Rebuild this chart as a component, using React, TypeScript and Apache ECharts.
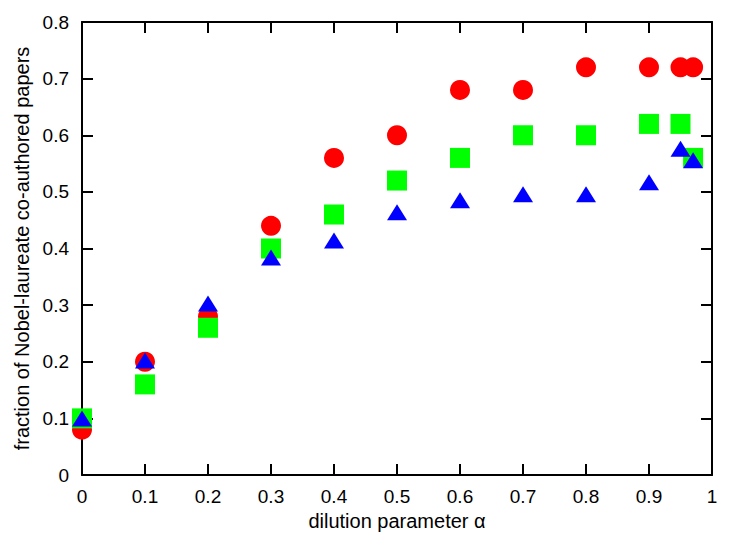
import React, { useEffect, useRef } from "react";
import * as echarts from "echarts";

const alphaValues = [0, 0.1, 0.2, 0.3, 0.4, 0.5, 0.6, 0.7, 0.8, 0.9, 0.95, 0.97];
const redCircles = [0.08, 0.2, 0.28, 0.44, 0.56, 0.6, 0.68, 0.68, 0.72, 0.72, 0.72, 0.72];
const greenSquares = [0.1, 0.16, 0.26, 0.4, 0.46, 0.52, 0.56, 0.6, 0.6, 0.62, 0.62, 0.56];
const blueTriangles = [0.1, 0.202, 0.303, 0.384, 0.414, 0.464, 0.485, 0.496, 0.496, 0.517, 0.576, 0.556];

const FONT = "Liberation Sans, Arial, Helvetica, sans-serif";

function pairs(ys: number[]) {
  return alphaValues.map((x, i) => [x, ys[i]]);
}

export default function App() {
  const ref = useRef<HTMLDivElement>(null);
  useEffect(() => {
    if (!ref.current) return;
    const chart = echarts.init(ref.current, undefined, { renderer: "svg" });
    const lineStyle = { color: "#000", width: 2 };
    const tick = () => ({ show: true, inside: true, length: 11, lineStyle: { color: "#000", width: 2 } });
    const fmt = (v: number) => String(Math.round(v * 10) / 10);
    chart.setOption({
      animation: false,
      backgroundColor: "#fff",
      grid: { left: 82, right: 35, top: 22, bottom: 64, containLabel: false },
      xAxis: [
        {
          type: "value",
          min: 0,
          max: 1,
          interval: 0.1,
          position: "bottom",
          axisLine: { show: true, onZero: false, lineStyle },
          axisTick: tick(),
          splitLine: { show: false },
          axisLabel: { color: "#000", fontFamily: FONT, fontSize: 19, margin: 12, formatter: fmt },
          name: "dilution parameter α",
          nameLocation: "middle",
          nameGap: 30,
          nameTextStyle: { color: "#000", fontFamily: FONT, fontSize: 20 },
        },
        {
          type: "value",
          min: 0,
          max: 1,
          interval: 0.1,
          position: "top",
          axisLine: { show: true, onZero: false, lineStyle },
          axisTick: tick(),
          splitLine: { show: false },
          axisLabel: { show: false },
        },
      ],
      yAxis: [
        {
          type: "value",
          min: 0,
          max: 0.8,
          interval: 0.1,
          position: "left",
          axisLine: { show: true, onZero: false, lineStyle },
          axisTick: tick(),
          splitLine: { show: false },
          axisLabel: { color: "#000", fontFamily: FONT, fontSize: 19, margin: 13, formatter: fmt },
          name: "fraction of Nobel-laureate co-authored papers",
          nameLocation: "middle",
          nameGap: 49,
          nameTextStyle: { color: "#000", fontFamily: FONT, fontSize: 20 },
        },
        {
          type: "value",
          min: 0,
          max: 0.8,
          interval: 0.1,
          position: "right",
          axisLine: { show: true, onZero: false, lineStyle },
          axisTick: tick(),
          splitLine: { show: false },
          axisLabel: { show: false },
        },
      ],
      series: [
        {
          type: "scatter",
          data: pairs(redCircles),
          symbol: "circle",
          symbolSize: 20,
          itemStyle: { color: "#ff0000", opacity: 1 },
        },
        {
          type: "scatter",
          data: pairs(greenSquares),
          symbol: "rect",
          symbolSize: 20,
          itemStyle: { color: "#00ff00", opacity: 1 },
        },
        {
          type: "scatter",
          data: pairs(blueTriangles),
          symbol: "triangle",
          symbolSize: [20, 16],
          itemStyle: { color: "#0000ff", opacity: 1 },
        },
      ],
    });
    return () => chart.dispose();
  }, []);
  return <div ref={ref} style={{ width: 747, height: 539, position: "absolute", left: 0, top: 0 }} />;
}
